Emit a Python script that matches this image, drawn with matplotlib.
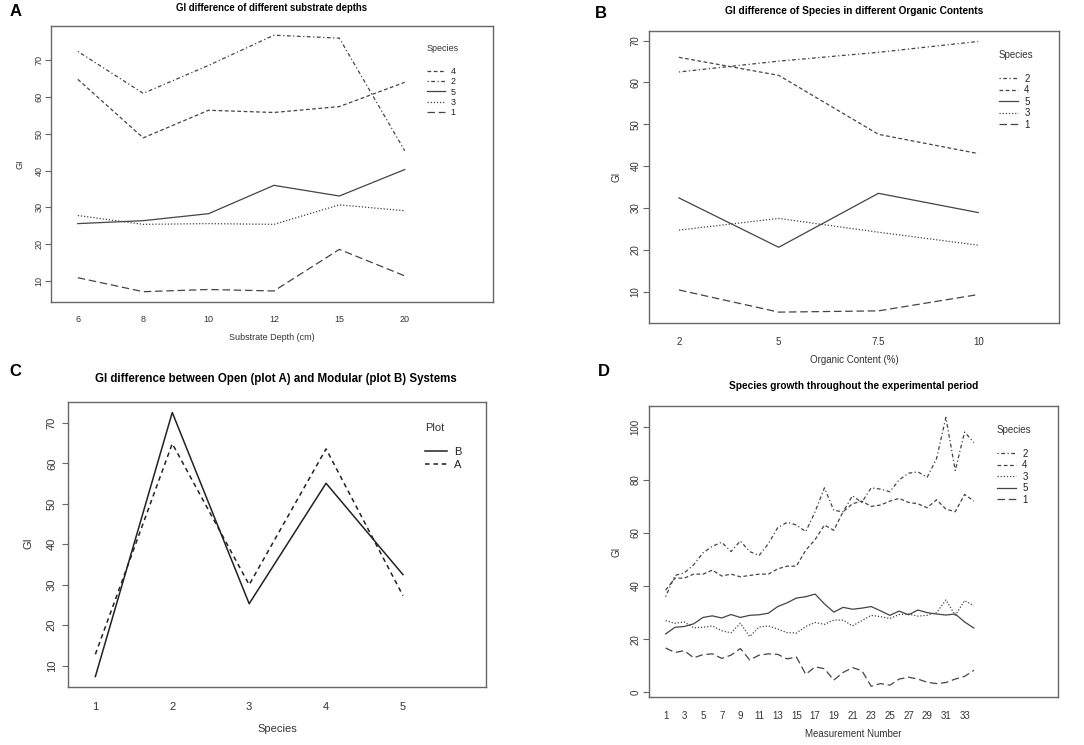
import matplotlib.pyplot as plt

plt.rcParams['font.family'] = ['Liberation Sans', 'DejaVu Sans']

W, H = 1084, 745

# ---- data: A, GI by substrate depth
depths = ['6', '8', '10', '12', '15', '20']
depth_sp1 = [10.9, 7.1, 7.7, 7.3, 18.6, 11.4]
depth_sp2 = [72.4, 61.0, 68.6, 76.8, 76.0, 45.4]
depth_sp3 = [27.8, 25.4, 25.6, 25.4, 30.7, 29.1]
depth_sp4 = [64.8, 48.9, 56.4, 55.8, 57.4, 64.0]
depth_sp5 = [25.6, 26.4, 28.3, 36.0, 33.1, 40.3]

# ---- data: B, GI by organic content
organic = ['2', '5', '7.5', '10']
org_sp1 = [10.4, 5.1, 5.4, 9.3]
org_sp2 = [62.5, 65.1, 67.2, 69.8]
org_sp3 = [24.7, 27.5, 24.2, 21.1]
org_sp4 = [66.0, 61.7, 47.6, 43.0]
org_sp5 = [32.4, 20.6, 33.5, 28.9]

# ---- data: C, open (A) vs modular (B)
species = ['1', '2', '3', '4', '5']
plot_a = [12.8, 64.9, 30.0, 63.6, 27.3]
plot_b = [7.3, 72.6, 25.3, 55.1, 32.5]

# ---- data: D, growth over measurements
measure = list(range(1, 35))
grow_sp1 = [16.7, 15.0, 15.7, 13.0, 14.2, 14.5, 12.8, 14.0, 16.5, 12.2, 14.0, 14.5,
            14.3, 12.6, 13.3, 6.8, 9.6, 8.9, 4.6, 7.5, 9.3, 8.2, 2.3, 3.3,
            2.7, 5.0, 5.7, 5.0, 3.8, 3.3, 3.7, 5.0, 6.0, 8.3]
grow_sp2 = [36.0, 44.0, 45.0, 48.0, 52.5, 55.0, 56.5, 53.0, 57.0, 53.0, 51.5, 56.0,
            62.0, 64.0, 63.0, 60.5, 68.0, 77.0, 68.5, 68.0, 74.0, 71.5, 77.0, 76.5,
            75.5, 80.0, 82.5, 83.0, 81.0, 88.0, 103.5, 83.5, 98.0, 94.0]
grow_sp3 = [27.0, 26.0, 26.5, 24.3, 24.5, 25.0, 23.2, 22.4, 26.0, 21.0, 24.6, 25.0,
            23.8, 22.5, 22.3, 24.8, 26.3, 25.6, 27.2, 27.2, 25.0, 27.0, 29.0, 28.5,
            27.8, 29.3, 29.5, 28.7, 29.0, 30.0, 34.8, 29.0, 34.5, 32.6]
grow_sp4 = [38.5, 43.0, 43.0, 44.5, 44.5, 46.0, 43.8, 44.5, 43.5, 44.0, 44.5, 44.5,
            46.5, 47.5, 47.5, 53.5, 57.5, 63.0, 61.0, 68.0, 71.0, 72.0, 70.0, 70.5,
            72.0, 73.0, 71.5, 71.0, 69.5, 72.5, 69.0, 68.0, 74.5, 72.0]
grow_sp5 = [22.0, 24.5, 24.8, 25.8, 28.2, 28.8, 28.0, 29.3, 28.2, 29.0, 29.2, 29.8,
            32.3, 33.7, 35.5, 36.0, 37.0, 33.3, 30.2, 32.0, 31.3, 31.7, 32.3, 30.7,
            29.0, 30.6, 29.2, 31.0, 30.0, 29.5, 29.1, 29.5, 26.5, 24.2]

# R interaction.plot line types (lty 5..1 for species 1..5)
LTY = {
    '1': (0, (6, 3)),        # longdash
    '2': (0, (1, 2, 3, 2)),  # dotdash
    '3': (0, (1, 1.5)),      # dotted
    '4': (0, (3, 2)),        # dashed
    '5': '-',                # solid
}
LINE_COL = '#444444'
FRAME_COL = '#666666'

fig = plt.figure(figsize=(W / 100, H / 100), dpi=100)


def px_axes(x0, y0, x1, y1):
    return fig.add_axes([x0 / W, 1 - y1 / H, (x1 - x0) / W, (y1 - y0) / H])


def ftext(x, y, s, **kw):
    fig.text(x / W, 1 - y / H, s, ha='center', va='center', **kw)


def style_axes(ax, fs, ypad, xpad):
    for sp in ax.spines.values():
        sp.set_color(FRAME_COL)
        sp.set_linewidth(1.0)
    ax.tick_params(axis='y', length=4, width=0.8, color=FRAME_COL, labelsize=fs,
                   pad=ypad, labelcolor='#333333', labelrotation=90)
    ax.tick_params(axis='x', length=0, labelsize=fs, pad=xpad, labelcolor='#333333')
    for lab in ax.get_yticklabels():
        lab.set_va('center')


def add_legend(ax, handles, labels, title, x, y, fs, spacing):
    leg = ax.legend(handles, labels, title=title, loc='upper left',
                    bbox_to_anchor=(x / W, 1 - y / H), bbox_transform=fig.transFigure,
                    frameon=False, fontsize=fs, title_fontsize=fs, alignment='left',
                    handlelength=2.0, handletextpad=0.6, borderpad=0, borderaxespad=0,
                    labelspacing=spacing)
    leg.get_title().set_color('#333333')
    for t in leg.get_texts():
        t.set_color('#222222')
    leg._legend_box.sep = 10


def draw_lines(ax, xs, series, lw=0.9):
    handles = {}
    for name, vals in series:
        h, = ax.plot(xs, vals, color=LINE_COL, lw=lw, linestyle=LTY[name])
        handles[name] = h
    return handles


# ---------------- Panel A
axA = px_axes(51, 26, 493, 302)
xa = range(1, len(depths) + 1)
hA = draw_lines(axA, xa, [('1', depth_sp1), ('2', depth_sp2), ('3', depth_sp3),
                          ('4', depth_sp4), ('5', depth_sp5)])
axA.set_xlim(0.59, 7.35)
axA.set_ylim(4.3, 79.3)
axA.set_xticks(list(xa), depths)
axA.set_yticks([10, 20, 30, 40, 50, 60, 70])
style_axes(axA, 6.5, 1.5, 9)
order = ['4', '2', '5', '3', '1']
add_legend(axA, [hA[k] for k in order], order, 'Species', 427, 44, 6.5, 0.15)
ftext(272, 8, 'GI difference of different substrate depths', fontsize=6.9, fontweight='bold')
ftext(272, 337, 'Substrate Depth (cm)', fontsize=6.5, color='#333333')
ftext(20, 164, 'GI', fontsize=6.5, rotation=90, color='#333333')
ftext(16, 12, 'A', fontsize=12, fontweight='bold')

# ---------------- Panel B
axB = px_axes(649, 31, 1059, 323)
xb = range(1, len(organic) + 1)
hB = draw_lines(axB, xb, [('1', org_sp1), ('2', org_sp2), ('3', org_sp3),
                          ('4', org_sp4), ('5', org_sp5)])
axB.set_xlim(0.70, 4.81)
axB.set_ylim(2.5, 72.3)
axB.set_xticks(list(xb), organic)
axB.set_yticks([10, 20, 30, 40, 50, 60, 70])
style_axes(axB, 7, 2, 10)
order = ['2', '4', '5', '3', '1']
add_legend(axB, [hB[k] for k in order], order, 'Species', 999, 50, 7, 0.15)
ftext(854, 11, 'GI difference of Species in different Organic Contents', fontsize=7.3,
      fontweight='bold')
ftext(854, 360, 'Organic Content (%)', fontsize=7, color='#333333')
ftext(616, 177, 'GI', fontsize=7, rotation=90, color='#333333')
ftext(601, 13, 'B', fontsize=12, fontweight='bold')

# ---------------- Panel C
axC = px_axes(68, 402, 486, 687)
xc = range(1, len(species) + 1)
hb, = axC.plot(xc, plot_b, color='#222222', lw=1.1, linestyle='-')
ha, = axC.plot(xc, plot_a, color='#222222', lw=1.1, linestyle=(0, (3, 2.5)))
axC.set_xlim(0.644, 6.08)
axC.set_ylim(4.7, 75.2)
axC.set_xticks(list(xc), species)
axC.set_yticks([10, 20, 30, 40, 50, 60, 70])
style_axes(axC, 8, 4, 11)
add_legend(axC, [hb, ha], ['B', 'A'], 'Plot', 425, 423, 8, 0.25)
ftext(276, 379, 'GI difference between Open (plot A) and Modular (plot B) Systems',
      fontsize=8.3, fontweight='bold')
ftext(277, 729, 'Species', fontsize=8, color='#333333')
ftext(29, 543, 'GI', fontsize=8, rotation=90, color='#333333')
ftext(15, 372, 'C', fontsize=12, fontweight='bold')

# ---------------- Panel D
axD = px_axes(649, 406, 1058, 697)
hD = draw_lines(axD, measure, [('1', grow_sp1), ('2', grow_sp2), ('3', grow_sp3),
                               ('4', grow_sp4), ('5', grow_sp5)])
axD.set_xlim(-0.78, 43.0)
axD.set_ylim(-1.75, 107.8)
axD.set_xticks(list(range(1, 34, 2)))
axD.set_yticks([0, 20, 40, 60, 80, 100])
style_axes(axD, 7, 2, 10)
order = ['2', '4', '3', '5', '1']
add_legend(axD, [hD[k] for k in order], order, 'Species', 997, 425, 7, 0.15)
ftext(854, 386, 'Species growth throughout the experimental period', fontsize=7.3,
      fontweight='bold')
ftext(853, 734, 'Measurement Number', fontsize=7, color='#333333')
ftext(616, 552, 'GI', fontsize=7, rotation=90, color='#333333')
ftext(604, 372, 'D', fontsize=12, fontweight='bold')

fig.savefig('out.png', dpi=100)
